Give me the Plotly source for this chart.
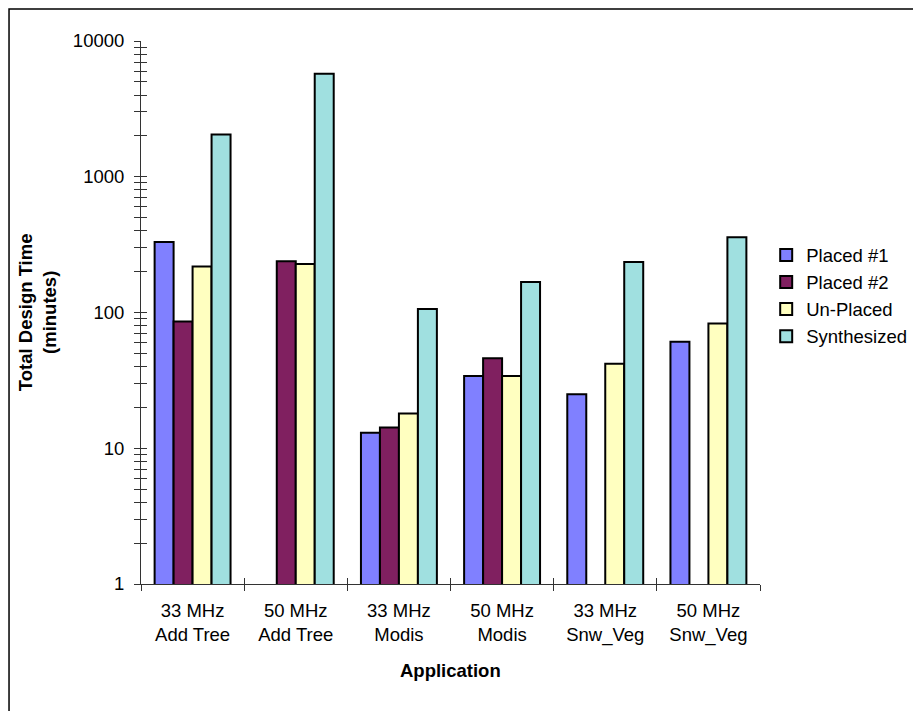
import plotly.graph_objects as go

categories = ["33 MHz<br>Add Tree", "50 MHz<br>Add Tree", "33 MHz<br>Modis",
              "50 MHz<br>Modis", "33 MHz<br>Snw_Veg", "50 MHz<br>Snw_Veg"]
placed_1 = [330, None, 13.0, 34, 25, 61]
placed_2 = [86, 239, 14.2, 46, None, None]
un_placed = [218, 228, 18.0, 34, 42, 83]
synthesized = [2050, 5730, 106, 168, 236, 359]

series_names = ["Placed #1", "Placed #2", "Un-Placed", "Synthesized"]
series_values = [placed_1, placed_2, un_placed, synthesized]
series_colors = ["#8080FF", "#802060", "#FFFFC0", "#A0E0E0"]

y_tick_vals = [1, 10, 100, 1000, 10000]
y_tick_text = ["1", "10", "100", "1000", "10000"]

# tick positions incl. minor (2..9 in every decade)
all_ticks = []
all_text = []
for i, v in enumerate(y_tick_vals):
    all_ticks.append(v)
    all_text.append(y_tick_text[i])
    if i < len(y_tick_vals) - 1:
        for d in range(2, 10):
            all_ticks.append(v * d)
            all_text.append("")

FONT = "Arial, Liberation Sans, sans-serif"
FS = 18.5

fig = go.Figure()
for name, vals, col in zip(series_names, series_values, series_colors):
    fig.add_trace(go.Bar(
        name=name, x=categories, y=vals,
        marker=dict(color=col, line=dict(color="black", width=2)),
    ))

# helper trace for overlay axes (crossing ticks)
fig.add_trace(go.Scatter(
    x=[categories[0]], y=[1], xaxis="x2", yaxis="y2", mode="markers",
    marker=dict(opacity=0), showlegend=False, hoverinfo="skip",
))

fig.update_layout(
    width=913, height=703,
    margin=dict(l=133, r=161, t=33, b=127, autoexpand=False),
    paper_bgcolor="white", plot_bgcolor="white",
    barmode="group", bargap=0.264, bargroupgap=0,
    font=dict(family=FONT, size=FS, color="black"),
    showlegend=True,
    legend=dict(
        x=1.01, y=0.64, xanchor="left", yanchor="top",
        font=dict(family=FONT, size=FS, color="black"),
        bgcolor="rgba(0,0,0,0)", tracegroupgap=0,
    ),
    xaxis=dict(
        type="category", categoryorder="array", categoryarray=categories,
        range=[-0.5, 5.5], showgrid=False, zeroline=False, automargin=False,
        showline=True, linecolor="#333333", linewidth=1,
        ticks="outside", tickson="boundaries", ticklen=6, tickcolor="#333333",
        tickfont=dict(family=FONT, size=FS, color="black"),
        ticklabelstandoff=10, fixedrange=True,
    ),
    yaxis=dict(
        type="log", range=[0, 4], showgrid=False, zeroline=False, automargin=False,
        showline=True, linecolor="#333333", linewidth=1,
        tickmode="array", tickvals=all_ticks, ticktext=all_text,
        ticks="outside", ticklen=6, tickcolor="#333333",
        tickfont=dict(family=FONT, size=FS, color="black"),
        ticklabelstandoff=6, fixedrange=True,
    ),
    xaxis2=dict(
        type="category", categoryorder="array", categoryarray=categories,
        range=[-0.5, 5.5], overlaying="x", side="bottom", anchor="y2",
        showgrid=False, zeroline=False, showline=False, automargin=False,
        ticks="inside", tickson="boundaries", ticklen=6, tickcolor="#333333",
        showticklabels=False, fixedrange=True,
    ),
    yaxis2=dict(
        type="log", range=[0, 4], overlaying="y", side="left", anchor="x2",
        showgrid=False, zeroline=False, showline=False, automargin=False,
        tickmode="array", tickvals=all_ticks,
        ticks="inside", ticklen=6, tickcolor="#333333",
        showticklabels=False, fixedrange=True,
    ),
    annotations=[
        dict(text="<b>Application</b>", xref="paper", yref="paper",
             x=0.5, y=-0.160, xanchor="center", yanchor="middle",
             showarrow=False, font=dict(family=FONT, size=FS, color="black")),
        dict(text="<b>Total Design Time<br>(minutes)</b>", xref="paper", yref="paper",
             x=-0.167, y=0.5, xanchor="center", yanchor="middle", textangle=-90,
             showarrow=False, font=dict(family=FONT, size=FS, color="black")),
    ],
    shapes=[
        dict(type="rect", xref="paper", yref="paper",
             x0=-0.2132, x1=1.27, y0=-0.25, y1=1.0589,
             line=dict(color="black", width=1.5), fillcolor="rgba(0,0,0,0)",
             layer="below"),
    ],
)

fig.write_html("out.html")
